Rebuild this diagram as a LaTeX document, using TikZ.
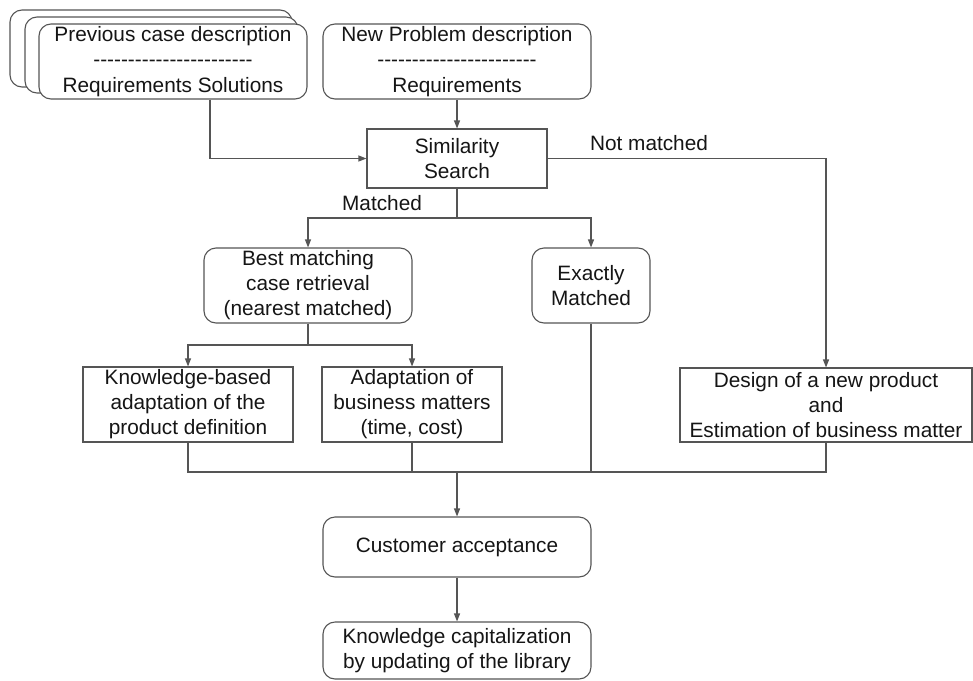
\documentclass[tikz,border=0pt]{standalone}
\usepackage{fontspec}
\setmainfont{Liberation Sans}
\usetikzlibrary{arrows.meta}
\definecolor{ln}{HTML}{555555}
\definecolor{tx}{HTML}{151515}
\newcommand\dashrow{\mbox{-}\mbox{-}\mbox{-}\mbox{-}\mbox{-}\mbox{-}\mbox{-}\mbox{-}\mbox{-}\mbox{-}\mbox{-}\mbox{-}\mbox{-}\mbox{-}\mbox{-}\mbox{-}\mbox{-}\mbox{-}\mbox{-}\mbox{-}\mbox{-}\mbox{-}\mbox{-}}
\tikzset{
  base/.style={draw=ln, line width=1.1pt, fill=white, text=tx, align=center, inner sep=0pt,
    font=\fontsize{20.8}{25}\selectfont},
  rbox/.style={base, rectangle, rounded corners=12pt},
  sbox/.style={base, rectangle},
  conn/.style={draw=ln, line width=1.1pt},
  arr/.style={conn, -{Triangle[length=8pt,width=6pt]}},
  lbl/.style={text=tx, inner sep=0pt, font=\fontsize{20.8}{25}\selectfont}
}
\begin{document}
\begin{tikzpicture}[x=1pt,y=-1pt]
\path[use as bounding box] (0,0) rectangle (973,680);
% stacked previous cases
\draw[conn, fill=white, rounded corners=12pt] (10,10) rectangle (292,87);
\draw[conn, fill=white, rounded corners=12pt] (25,17) rectangle (298,93);
\node[rbox, minimum width=268pt, minimum height=75pt] (prev) at (173,61.5)
  {Previous case description\\[0.5pt]\dashrow\\[0.5pt]Requirements Solutions};
\node[rbox, minimum width=268pt, minimum height=75pt] (newp) at (457,61.5)
  {New Problem description\\[0.5pt]\dashrow\\[0.5pt]Requirements};
\node[sbox, minimum width=180pt, minimum height=59pt] (sim) at (457,158.5)
  {Similarity\\Search};
\node[rbox, minimum width=208pt, minimum height=75pt] (best) at (308,285.5)
  {Best matching\\case retrieval\\(nearest matched)};
\node[rbox, minimum width=118pt, minimum height=75pt] (exact) at (591,285.5)
  {Exactly\\Matched};
\node[sbox, minimum width=210pt, minimum height=75pt] (know) at (188,404.5)
  {Knowledge-based\\adaptation of the\\product definition};
\node[sbox, minimum width=180pt, minimum height=75pt] (adapt) at (412,404.5)
  {Adaptation of\\business matters\\(time, cost)};
\node[sbox, minimum width=292pt, minimum height=74pt] (design) at (826,405)
  {Design of a new product\\and\\Estimation of business matter};
\node[rbox, minimum width=268pt, minimum height=60pt] (cust) at (457,547)
  {Customer acceptance};
\node[rbox, minimum width=268pt, minimum height=57pt] (kcap) at (457,650.5)
  {Knowledge capitalization\\by updating of the library};
% labels
\node[lbl] (lm) at (382,203) {Matched};
\node[lbl] (lnm) at (649,143) {Not matched};
% connectors
\coordinate (m) at (457,218);
\coordinate (b) at (308,345);
\coordinate (c) at (457,472);
\draw[arr] ([xshift=37pt]prev.south) |- (sim.west);
\draw[arr] (newp.south) -- (sim.north);
\draw[arr] (sim.east) -| (design.north);
\draw[conn] (sim.south) -- (m);
\draw[arr] (m) -| (best.north);
\draw[arr] (m) -| (exact.north);
\draw[conn] (best.south) -- (b);
\draw[arr] (b) -| (know.north);
\draw[arr] (b) -| (adapt.north);
\draw[conn] (know.south) |- (c);
\draw[conn] (design.south) |- (c);
\draw[conn] (adapt.south) -- (adapt.south |- c);
\draw[conn] (exact.south) -- (exact.south |- c);
\draw[arr] (c) -- (cust.north);
\draw[arr] (cust.south) -- (kcap.north);
\end{tikzpicture}
\end{document}
